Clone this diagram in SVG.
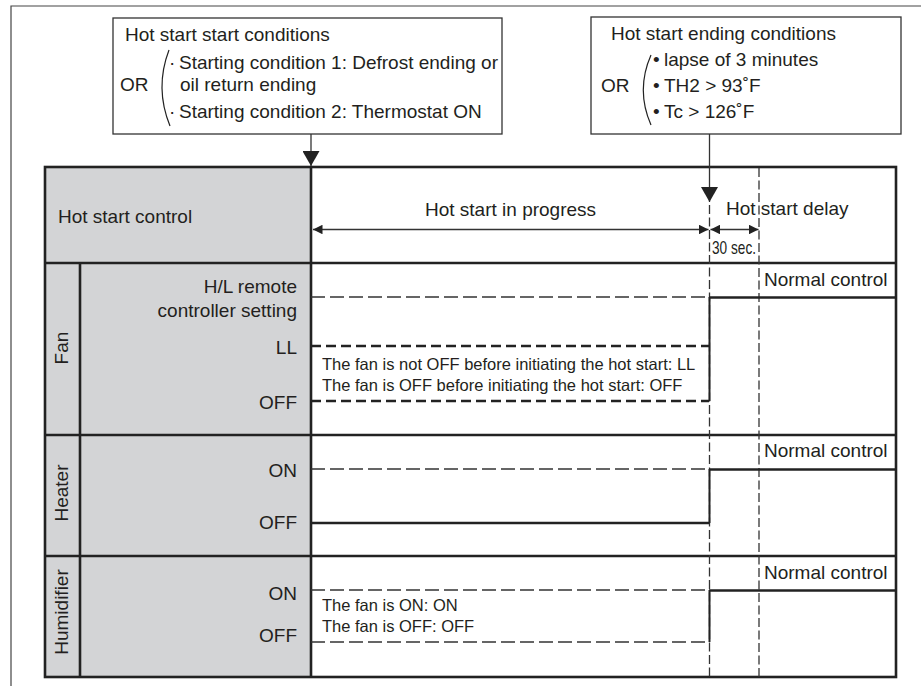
<svg xmlns="http://www.w3.org/2000/svg" width="921" height="686" viewBox="0 0 921 686">
  <style>
    .frame { stroke: #444; stroke-width: 1.2; fill: none; }
    .box { fill: #fff; stroke: #333; stroke-width: 1.3; }
    .grid { stroke: #222; stroke-width: 2.6; fill: none; }
    .head { fill: #d3d4d6; }
    .t { font-family: "Liberation Sans", Arial, Helvetica, sans-serif; font-size: 19px; fill: #231f20; }
    .s { font-size: 16.5px; }
    .thin { stroke: #333; stroke-width: 1.3; fill: none; }
    .dash { stroke: #333; stroke-width: 1.3; stroke-dasharray: 14 5; fill: none; }
    .bdash { stroke: #222; stroke-width: 2.6; stroke-dasharray: 10 5; fill: none; }
    .vdash { stroke: #333; stroke-width: 1.3; stroke-dasharray: 9 3.5; fill: none; }
    .sig { stroke: #222; stroke-width: 2.6; fill: none; }
    .step { stroke: #222; stroke-width: 2; fill: none; }
    .paren { stroke: #222; stroke-width: 1.2; fill: none; }
  </style>
  <defs>
    <marker id="dim" viewBox="0 0 10 10" refX="10" refY="5" markerWidth="10" markerHeight="9.5" markerUnits="userSpaceOnUse" orient="auto-start-reverse">
      <path d="M0,0 L10,5 L0,10 z" fill="#222"/>
    </marker>
    <marker id="down" viewBox="0 0 15 17" refX="15" refY="8.5" markerWidth="15" markerHeight="17" markerUnits="userSpaceOnUse" orient="auto">
      <path d="M0,0 L15,8.5 L0,17 z" fill="#222"/>
    </marker>
  </defs>

  <!-- page frame -->
  <path class="frame" d="M11,686 V6 H921"/>

  <!-- start conditions box -->
  <g id="start-conditions">
    <rect class="box" x="113" y="18" width="389" height="116"/>
    <text class="t" x="125" y="41">Hot start start conditions</text>
    <text class="t" x="120" y="91">OR</text>
    <path class="paren" d="M169,50 Q154.5,88 170,126"/>
    <text class="t" y="69"><tspan x="169">·</tspan><tspan x="179">Starting condition 1: Defrost ending or</tspan></text>
    <text class="t" x="180" y="91">oil return ending</text>
    <text class="t" y="118"><tspan x="169">·</tspan><tspan x="179">Starting condition 2: Thermostat ON</tspan></text>
  </g>

  <!-- ending conditions box -->
  <g id="end-conditions">
    <rect class="box" x="591" y="17" width="310" height="117"/>
    <text class="t" x="611" y="40">Hot start ending conditions</text>
    <text class="t" x="601" y="92">OR</text>
    <path class="paren" d="M651,55 Q635.6,90 651,125"/>
    <text class="t" y="66"><tspan x="653">•</tspan><tspan x="664">lapse of 3 minutes</tspan></text>
    <text class="t" y="92"><tspan x="653">•</tspan><tspan x="664">TH2 &gt; 93˚F</tspan></text>
    <text class="t" y="118"><tspan x="653">•</tspan><tspan x="664">Tc &gt; 126˚F</tspan></text>
  </g>

  <!-- timing table -->
  <g id="table">
    <rect class="head" x="45" y="167" width="266" height="510"/>
    <rect class="grid" x="45" y="167" width="851" height="510"/>
    <path class="grid" d="M311,167 V677 M80,263 V677 M45,263 H896 M45,435 H896 M45,556 H896"/>
    <text class="t" x="58" y="223">Hot start control</text>
  </g>

  <g id="fan">
    <text class="t" transform="translate(68,348) rotate(-90)" text-anchor="middle">Fan</text>
    <text class="t" x="297" y="293" text-anchor="end">H/L remote</text>
    <text class="t" x="297" y="317" text-anchor="end">controller setting</text>
    <text class="t" x="297" y="354" text-anchor="end">LL</text>
    <text class="t" x="297" y="409" text-anchor="end">OFF</text>
    <text class="t s" x="322" y="370">The fan is not OFF before initiating the hot start: LL</text>
    <text class="t s" x="322" y="391">The fan is OFF before initiating the hot start: OFF</text>
    <text class="t" x="764" y="286">Normal control</text>
  </g>

  <g id="heater">
    <text class="t" transform="translate(68,493) rotate(-90)" text-anchor="middle">Heater</text>
    <text class="t" x="297" y="477" text-anchor="end">ON</text>
    <text class="t" x="297" y="529" text-anchor="end">OFF</text>
    <text class="t" x="764" y="457">Normal control</text>
  </g>

  <g id="humidifier">
    <text class="t" transform="translate(68,612) rotate(-90)" text-anchor="middle" font-size="17.5">Humidifier</text>
    <text class="t" x="297" y="600" text-anchor="end">ON</text>
    <text class="t" x="297" y="642" text-anchor="end">OFF</text>
    <text class="t s" x="322" y="611">The fan is ON: ON</text>
    <text class="t s" x="322" y="632">The fan is OFF: OFF</text>
    <text class="t" x="764" y="579">Normal control</text>
  </g>

  <!-- phase labels -->
  <g id="phases">
    <text class="t" x="425" y="216">Hot start in progress</text>
    <text class="t" x="726" y="215">Hot start delay</text>
    <text class="t" x="712" y="254" font-size="15" textLength="44" lengthAdjust="spacingAndGlyphs">30 sec.</text>
  </g>

  <!-- connectors, time markers and signal traces -->
  <g id="connectors">
    <line class="thin" x1="311" y1="134" x2="311" y2="166" marker-end="url(#down)"/>
    <line class="thin" x1="709.5" y1="134" x2="709.5" y2="202" marker-end="url(#down)"/>
    <line class="vdash" x1="709.5" y1="205" x2="709.5" y2="677"/>
    <line class="vdash" x1="759" y1="168" x2="759" y2="677"/>
    <line class="thin" x1="313" y1="229.5" x2="708.5" y2="229.5" marker-start="url(#dim)" marker-end="url(#dim)"/>
    <line class="thin" x1="710.5" y1="229.5" x2="758.5" y2="229.5" marker-start="url(#dim)" marker-end="url(#dim)"/>

    <!-- fan -->
    <line class="dash" x1="311" y1="297" x2="709" y2="297"/>
    <line class="bdash" x1="311" y1="346" x2="709" y2="346"/>
    <line class="bdash" x1="311" y1="401" x2="709" y2="401"/>
    <line class="step" x1="709.5" y1="297" x2="709.5" y2="401"/>
    <line class="sig" x1="709" y1="297.5" x2="896" y2="297.5"/>

    <!-- heater -->
    <line class="dash" x1="311" y1="469" x2="709" y2="469"/>
    <line class="sig" x1="311" y1="523" x2="709.5" y2="523"/>
    <line class="step" x1="709.5" y1="469" x2="709.5" y2="523"/>
    <line class="sig" x1="709" y1="469.5" x2="896" y2="469.5"/>

    <!-- humidifier -->
    <line class="dash" x1="311" y1="590" x2="709" y2="590"/>
    <line class="dash" x1="311" y1="642" x2="709" y2="642"/>
    <line class="step" x1="709.5" y1="590" x2="709.5" y2="642"/>
    <line class="sig" x1="709" y1="590.5" x2="896" y2="590.5"/>
  </g>
</svg>
